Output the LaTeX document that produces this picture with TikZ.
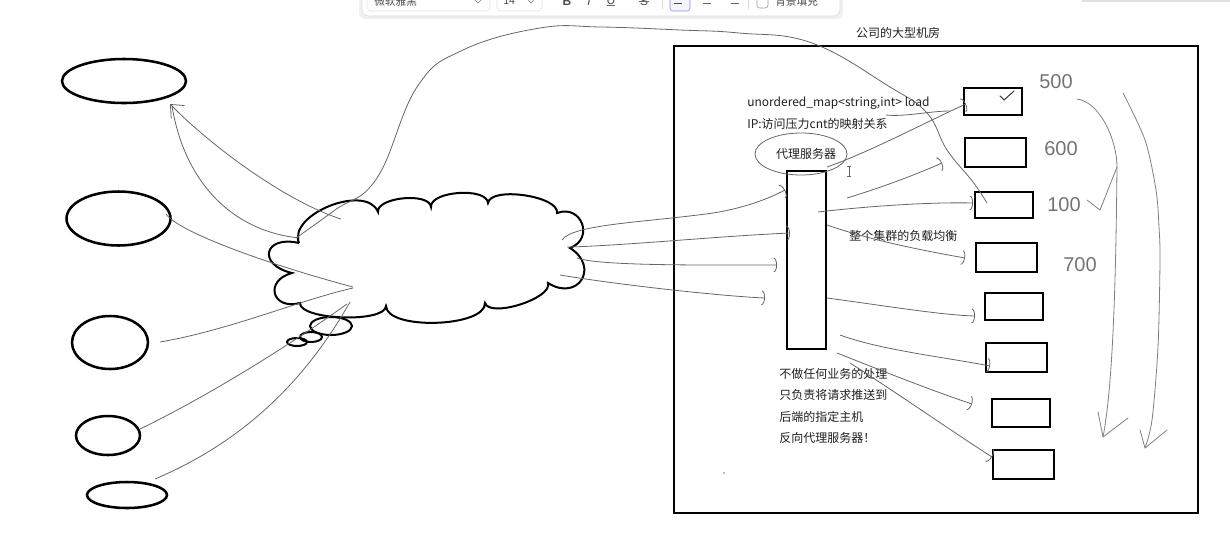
\documentclass[tikz,border=0pt]{standalone}
\usepackage{fontspec}
\newfontfamily\cjk{Noto Sans CJK SC}
\setsansfont{Liberation Sans}
\usetikzlibrary{arrows.meta,shapes.geometric,calc}
\begin{document}
\begin{tikzpicture}[x=0.75pt,y=-0.75pt,
  ell/.style={draw, ellipse, line width=1.9pt, inner sep=0pt},
  bub/.style={draw, ellipse, line width=1.5pt, inner sep=0pt},
  srv/.style={draw, rectangle, line width=2.2pt, inner sep=0pt},
  pen/.style={draw=black!60, line width=0.6pt},
  penarr/.style={pen, -{Arc Barb[length=2.5pt,width=11pt]}},
  hand/.style={draw=black!50, line width=0.6pt, line cap=round, line join=round},
  txt/.style={font=\cjk\fontsize{9}{11}\selectfont, inner sep=0pt, text=black!88},
  num/.style={font=\sffamily\fontsize{15}{15}\selectfont, inner sep=0pt, text=black!55},
  tbtxt/.style={font=\cjk\fontsize{8}{9}\selectfont, inner sep=0pt, text=black!70},
]
\useasboundingbox (0,0) rectangle (1230,540);

% ---------- toolbar (cut off at top) ----------
\begin{scope}
\clip (0,0) rectangle (1230,540);
\fill[black!6, rounded corners=5pt] (359,-20) rectangle (843,19);
\draw[black!14, fill=white, rounded corners=5pt] (362,-20) rectangle (840,16);
\draw[black!12, rounded corners=3pt] (367,-20) rectangle (490,11);
\node[tbtxt, anchor=west] (tbfont) at (374,1) {微软雅黑};
\draw[black!50, line width=0.5pt] (475,0) -- (478,3) -- (481,0);
\draw[black!12, rounded corners=3pt] (497,-20) rectangle (542,11);
\node[tbtxt, anchor=west] (tbsize) at (503,1) {14};
\draw[black!50, line width=0.5pt] (528,0) -- (531,3) -- (534,0);
\node[tbtxt, font=\sffamily\bfseries\fontsize{9}{9}\selectfont] (tbb) at (567,1) {B};
\node[tbtxt, font=\sffamily\itshape\fontsize{9}{9}\selectfont] (tbi) at (589,1) {I};
\node[tbtxt, font=\sffamily\fontsize{9}{9}\selectfont] (tbu) at (611,0) {U};
\draw[black!60, line width=0.5pt] (607,5) -- (615,5);
\node[tbtxt, font=\sffamily\fontsize{9}{9}\selectfont] (tbs) at (644,1) {S};
\draw[black!60, line width=0.5pt] (639,1) -- (649,1);
\draw[black!15] (662,-5) -- (662,9);
\draw[black!35!blue!45, fill=blue!4, rounded corners=2pt] (670,-6) rectangle (690,11);
\draw[black!70, line width=0.6pt] (674,-1) -- (686,-1) (674,3) -- (682,3);
\draw[black!60, line width=0.6pt] (701,-1) -- (713,-1) (703,3) -- (711,3);
\draw[black!60, line width=0.6pt] (727,-1) -- (739,-1) (731,3) -- (739,3);
\draw[black!15] (748,-5) -- (748,9);
\draw[black!40, rounded corners=2pt] (757,-6) rectangle (768,8);
\node[tbtxt, anchor=west] (tbbg) at (775,1) {背景填充};
\fill[black!12] (1082,0) rectangle (1230,1.5);
\end{scope}

% ---------- clients ----------
\node[ell, minimum width=93pt, minimum height=33pt] (e1) at (124,81) {};
\node[ell, minimum width=78pt, minimum height=40.5pt] (e2) at (118.5,218.5) {};
\node[ell, minimum width=57pt, minimum height=39.75pt] (e3) at (110,342.5) {};
\node[ell, minimum width=48pt, minimum height=29.25pt] (e4) at (108,435.5) {};
\node[ell, minimum width=60pt, minimum height=19.5pt] (e5) at (127,495) {};

% ---------- cloud ----------
\coordinate (k1) at (299,243);
\coordinate (k2) at (378,212);
\coordinate (k3) at (431,207);
\coordinate (k4) at (488,203);
\coordinate (k5) at (557,213);
\coordinate (k6) at (570,248);
\coordinate (k7) at (548,283);
\coordinate (k8) at (485,303);
\coordinate (k9) at (386,306);
\coordinate (k10) at (300,303);
\coordinate (k11) at (292,273);
\draw[line width=1.5pt]
  (k1) to[bend left=90, looseness=0.94] (k2)
       to[bend left=90, looseness=0.72] (k3)
       to[bend left=90, looseness=0.72] (k4)
       to[bend left=90, looseness=0.63] (k5)
       to[bend left=90, looseness=1.8] (k6)
       to[bend left=90, looseness=2.2] (k7)
       to[bend left=90, looseness=0.62] (k8)
       to[bend left=90, looseness=0.63] (k9)
       to[bend left=90, looseness=0.51] (k10)
       to[bend left=90, looseness=2.4] (k11)
       to[bend left=90, looseness=3.0] (k1);
\node[bub, minimum width=31.5pt, minimum height=13.5pt] (b1) at (331,326) {};
\node[bub, minimum width=16.5pt, minimum height=7.5pt] (b2) at (311,337) {};
\node[bub, minimum width=15pt, minimum height=6pt] (b3) at (297,342) {};

% ---------- machine room ----------
\node[draw, line width=2.2pt, inner sep=0pt, minimum width=393pt, minimum height=350.25pt] (room) at (936,279.5) {};
\node[txt] (title) at (898,33) {公司的大型机房};

\node[srv, line width=1.9pt, minimum width=29.25pt, minimum height=133.5pt] (proxy) at (806.5,260) {};
\node[draw=black!60, line width=0.6pt, ellipse, inner sep=0pt, minimum width=69pt, minimum height=31.5pt] (plabel) at (801,154) {};
\node[txt] (ptext) at (806,154) {代理服务器};

\node[srv, minimum width=43.5pt, minimum height=20.25pt] (s1) at (993,101.5) {};
\node[srv, minimum width=45.75pt, minimum height=21.75pt] (s2) at (995.5,152.5) {};
\node[srv, minimum width=43.5pt, minimum height=19.5pt] (s3) at (1004,205) {};
\node[srv, minimum width=45.75pt, minimum height=21.75pt] (s4) at (1006.5,257.5) {};
\node[srv, minimum width=43.5pt, minimum height=20.25pt] (s5) at (1014,306.5) {};
\node[srv, minimum width=45.75pt, minimum height=21.75pt] (s6) at (1016.5,357.5) {};
\node[srv, minimum width=43.5pt, minimum height=21pt] (s7) at (1021,413) {};
\node[srv, minimum width=45.75pt, minimum height=21.75pt] (s8) at (1023.5,464.5) {};

\node[txt, anchor=west] (um) at (747,103) {unordered\_map<string,int> load};
\node[txt, anchor=west] (ip) at (747,124) {IP:访问压力cnt的映射关系};
\node[txt, anchor=west] (lb) at (849,236) {整个集群的负载均衡};
\node[txt, anchor=north west, align=left, font=\cjk\fontsize{9}{16.1}\selectfont] (desc) at (779,368)
  {不做任何业务的处理\\只负责将请求推送到\\后端的指定主机\\反向代理服务器！};

\node[num] (n1) at (1056,82) {500};
\node[num] (n2) at (1061,149) {600};
\node[num] (n3) at (1064,205) {100};
\node[num] (n4) at (1080,265) {700};

% ---------- client connectors ----------
\coordinate (c1s) at (341,219);
\coordinate (a1) at (170,104);
\coordinate (c2s) at (300,238);
\coordinate (a2) at (172,106);
\draw[pen, -{Straight Barb[length=8pt,width=14pt]}] (c1s) .. controls (290,203) and (215,150) .. (a1);
\draw[pen] (c2s) .. controls (235,232) and (185,185) .. (a2);
\coordinate (c3s) at (166,214);
\coordinate (c3e) at (353,287);
\draw[pen] (c3s) .. controls (178,232) and (270,265) .. (c3e);
\coordinate (c4s) at (160,342);
\coordinate (c4e) at (353,288);
\draw[pen] (c4s) .. controls (230,330) and (300,300) .. (c4e);
\coordinate (c5s) at (140,429);
\coordinate (c5e) at (347,304);
\draw[pen] (c5s) .. controls (210,395) and (290,345) .. (c5e);
\coordinate (c6s) at (155,479);
\coordinate (c6e) at (350,302);
\draw[pen] (c6s) .. controls (235,445) and (300,390) .. (c6e);

% big curve from the cloud into the room
\coordinate (gs) at (296,238);
\coordinate (ge) at (987,203);
\draw[pen] plot[smooth, tension=0.7] coordinates {(gs) (335,210) (377,178) (417,87) (463,50) (540,28) (601,27) (680,30) (739,33) (812,43) (890,87) (927,113) (947,150) (973,182) (ge)};

% ---------- cloud to proxy ----------
\coordinate (l1s) at (562,240);
\coordinate (l1e) at (785,190);
\draw[penarr] (l1s) .. controls (572,224) and (650,222) .. (713,213) .. controls (745,208) and (770,198) .. (l1e);
\coordinate (l2s) at (567,247);
\coordinate (l2e) at (790,233);
\draw[penarr] (l2s) .. controls (620,246) and (720,236) .. (l2e);
\coordinate (l3s) at (577,258);
\coordinate (l3e) at (777,265);
\draw[penarr] (l3s) .. controls (600,266) and (700,265) .. (l3e);
\coordinate (l4s) at (560,275);
\coordinate (l4e) at (765,298);
\draw[penarr] (l4s) .. controls (620,285) and (720,296) .. (l4e);

% ---------- proxy to servers ----------
\coordinate (p1s) at (827,167);
\coordinate (p1e) at (966,104);
\draw[penarr] (p1s) .. controls (870,152) and (930,120) .. (p1e);
\coordinate (us) at (886,115);
\coordinate (ue) at (950,111);
\draw[pen] (us) .. controls (905,117) and (930,111) .. (ue);
\coordinate (p2s) at (847,198);
\coordinate (p2e) at (942,163);
\draw[penarr] (p2s) .. controls (880,188) and (915,175) .. (p2e);
\coordinate (p3s) at (818,212);
\coordinate (p3e) at (973,203);
\draw[penarr] (p3s) .. controls (870,206) and (930,202) .. (p3e);
\coordinate (p4s) at (827,225);
\coordinate (p4e) at (965,258);
\draw[penarr] (p4s) .. controls (870,240) and (920,250) .. (p4e);
\coordinate (p5s) at (827,298);
\coordinate (p5e) at (975,316);
\draw[penarr] (p5s) .. controls (880,305) and (940,315) .. (p5e);
\coordinate (p6s) at (840,335);
\coordinate (p6e) at (990,366);
\draw[penarr] (p6s) .. controls (880,350) and (950,358) .. (p6e);
\coordinate (p7s) at (837,353);
\coordinate (p7e) at (972,404);
\draw[penarr] (p7s) .. controls (880,370) and (930,390) .. (p7e);
\coordinate (p8s) at (850,363);
\coordinate (p8e) at (992,457);
\draw[penarr] (p8s) .. controls (900,395) and (950,430) .. (p8e);

% ---------- handwritten marks ----------
\draw[black!75, line width=0.8pt, line cap=round] (1000,96) -- (1004,100) -- (1014,91);
\draw[black!60, line width=0.5pt] (849,166) -- (849,176) (847,166) -- (851,166) (847,176) -- (851,176);
\fill[black!55] (724,473) circle (0.6pt);

\coordinate (r1s) at (1077,99);
\coordinate (r1m) at (1117,167);
\draw[hand] (r1s) .. controls (1100,102) and (1117,140) .. (r1m) -- (1100,210) -- (1087,200);
\coordinate (r2e) at (1103,437);
\draw[hand] (r1m) .. controls (1116,260) and (1114,380) .. (r2e);
\draw[hand] (1098,412) -- (r2e) -- (1128,418);
\coordinate (r3s) at (1123,93);
\coordinate (r3e) at (1145,448);
\draw[hand] plot[smooth] coordinates {(r3s) (1145,140) (1156,190) (1159,227) (1160,260) (1158,347) (1152,420) (r3e)};
\draw[hand] (1140,430) -- (r3e) -- (1167,430);
\end{tikzpicture}
\end{document}
